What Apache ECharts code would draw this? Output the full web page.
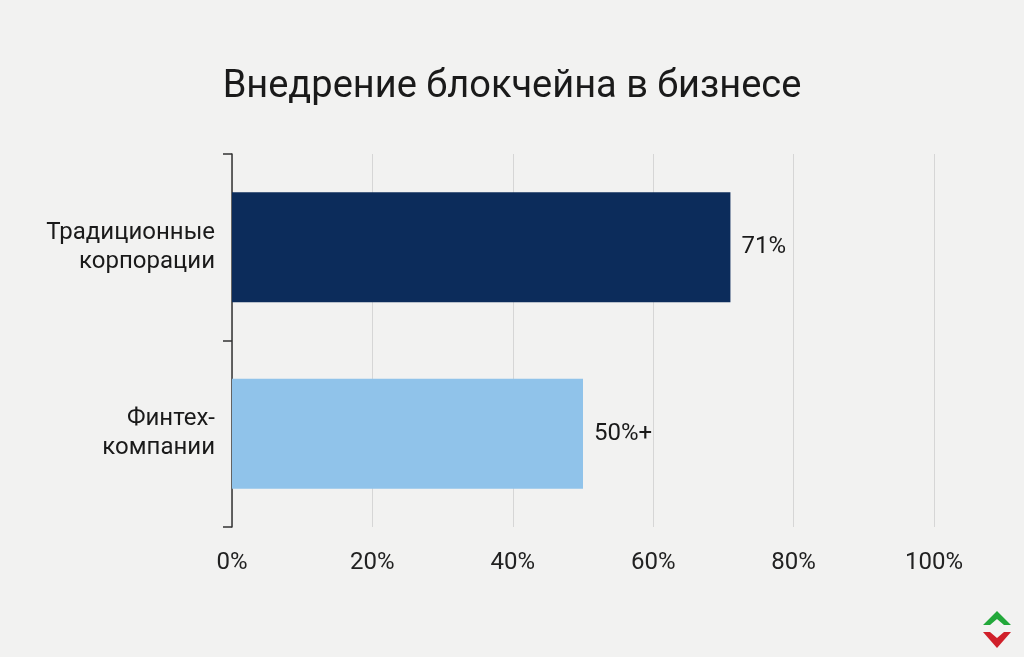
<!DOCTYPE html>
<html>
<head>
<meta charset="utf-8">
<script src="https://cdn.jsdelivr.net/npm/echarts@6/dist/echarts.min.js"></script>
<style>
  html, body { margin: 0; padding: 0; background: #f2f2f1; }
  #chart { width: 1024px; height: 657px; }
</style>
</head>
<body>
<div id="chart"></div>
<script>
const categories = ['Традиционные\nкорпорации', 'Финтех-\nкомпании'];
const values = [71, 50];
const valueLabels = ['71%', '50%+'];
const barColors = ['#0c2c5b', '#90c3ea'];

const chart = echarts.init(document.getElementById('chart'));
chart.setOption({
  animation: false,
  backgroundColor: '#f2f2f1',
  title: {
    text: 'Внедрение блокчейна в бизнесе',
    left: 'center',
    top: 63,
    textStyle: { fontFamily: 'Roboto', fontSize: 38, fontWeight: 'normal', color: '#1a1a1a' }
  },
  grid: { left: 232, right: 90, top: 154, bottom: 130 },
  xAxis: {
    type: 'value',
    min: 0,
    max: 100,
    interval: 20,
    axisLine: { show: false },
    axisTick: { show: false },
    splitLine: { lineStyle: { color: '#d6d6d6', width: 1 } },
    axisLabel: {
      formatter: '{value}%',
      margin: 24,
      fontFamily: 'Roboto',
      fontSize: 24,
      color: '#222'
    }
  },
  yAxis: {
    type: 'category',
    inverse: true,
    data: categories,
    axisLine: { show: true, lineStyle: { color: '#333', width: 1.5 } },
    axisTick: { show: true, length: 9, lineStyle: { color: '#333', width: 1.5 } },
    axisLabel: {
      margin: 17,
      fontFamily: 'Roboto',
      fontSize: 24,
      lineHeight: 29,
      color: '#1a1a1a',
      align: 'right'
    }
  },
  series: [{
    type: 'bar',
    barWidth: 110,
    data: values.map((v, i) => ({ value: v, itemStyle: { color: barColors[i] } })),
    label: {
      show: true,
      position: 'right',
      distance: 11,
      formatter: p => valueLabels[p.dataIndex],
      fontFamily: 'Roboto',
      fontSize: 24,
      color: '#1a1a1a'
    }
  }],
  graphic: [
    { type: 'polygon', shape: { points: [[997, 611], [983, 625], [990, 625], [997, 619], [1004, 625], [1011, 625]] }, style: { fill: '#22a83a' } },
    { type: 'polygon', shape: { points: [[983, 632], [997, 648], [1011, 632], [1004, 632], [997, 638], [990, 632]] }, style: { fill: '#d0202a' } }
  ]
});
</script>
</body>
</html>
